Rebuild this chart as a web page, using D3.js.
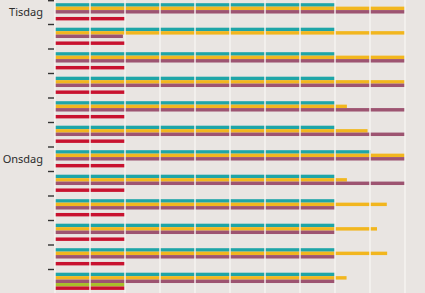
<!DOCTYPE html>
<html>
<head>
<meta charset="utf-8">
<script src="https://cdn.jsdelivr.net/npm/d3@7"></script>
<style>
  html, body { margin: 0; padding: 0; background: #e9e5e2; }
  svg { display: block; }
</style>
</head>
<body>
<svg id="chart" width="425" height="293"></svg>
<script>
// one row per time slot, only a few carry a day label
const dayLabels = ["Tisdag", "", "", "", "", "", "Onsdag", "", "", "", "", ""];
const seriesNames = ["teal", "yellow", "mauve", "green", "red"];
const tealValues = [8, 8, 8, 8, 8, 8, 9.02, 8, 8, 8, 8, 8];
const yellowValues = [10, 10, 10, 10, 8.34, 8.93, 10, 8.34, 9.48, 9.2, 9.49, 8.33];
const mauveValues = [10, 1.94, 10, 10, 10, 10, 10, 10, 8, 8, 8, 8];
const greenValues = [0, 0, 0, 0, 0, 0, 0, 0, 0, 0, 0, 2];
const redValues = [2, 2, 2, 2, 2, 2, 2, 2, 2, 2, 2, 2];
const gridTicks = [0, 1, 2, 3, 4, 5, 6, 7, 8, 9, 10];

const COLORS = {
  teal: "#1ea5a7",
  yellow: "#f2b61e",
  mauve: "#9d5471",
  green: "#a8bf2a",
  red: "#c8122f",
};

const svg = d3.select("#chart");

const rows = dayLabels.map((label, i) => ({
  i,
  label,
  teal: tealValues[i],
  yellow: yellowValues[i],
  mauve: mauveValues[i],
  green: greenValues[i],
  red: redValues[i],
}));

const x = d3.scaleLinear().domain([0, 10]).range([55, 405]);
const y = d3
  .scaleBand()
  .domain(rows.map((d) => d.i))
  .range([0, 24.5 * rows.length])
  .paddingInner(0)
  .paddingOuter(0);
const ySub = d3.scaleBand().domain(seriesNames).range([3.2, 20.4]).padding(0);

// bars
const groups = svg
  .append("g")
  .selectAll("g")
  .data(rows)
  .enter()
  .append("g")
  .attr("transform", (d) => `translate(0,${y(d.i)})`);

groups
  .selectAll("rect")
  .data((d) => seriesNames.map((s) => ({ s, v: d[s] })).filter((b) => b.v > 0))
  .enter()
  .append("rect")
  .attr("x", x(0))
  .attr("y", (b) => ySub(b.s))
  .attr("width", (b) => x(b.v) - x(0))
  .attr("height", ySub.bandwidth())
  .style("fill", (b) => COLORS[b.s]);

// white vertical gridlines drawn over the bars
svg
  .append("g")
  .selectAll("line")
  .data(gridTicks)
  .enter()
  .append("line")
  .attr("x1", (d) => x(d))
  .attr("x2", (d) => x(d))
  .attr("y1", 0)
  .attr("y2", 293)
  .style("stroke", "#f7f5f3")
  .style("stroke-width", 1.4);

// y axis: ticks at band boundaries, labels centred in band
const boundaries = rows.map((d) => y(d.i));
svg
  .append("g")
  .selectAll("line")
  .data(boundaries)
  .enter()
  .append("line")
  .attr("x1", 48)
  .attr("x2", 54)
  .attr("y1", (d) => Math.max(d, 0.7))
  .attr("y2", (d) => Math.max(d, 0.7))
  .style("stroke", "#333")
  .style("stroke-width", 1.4);

svg
  .append("g")
  .selectAll("text")
  .data(rows.filter((d) => d.label))
  .enter()
  .append("text")
  .attr("x", 43)
  .attr("y", (d) => y(d.i) + y.bandwidth() / 2)
  .attr("dy", "0.35em")
  .attr("text-anchor", "end")
  .style("font-family", "'Noto Sans', sans-serif")
  .style("font-size", "11px")
  .style("fill", "#2b2b2b")
  .text((d) => d.label);
</script>
</body>
</html>
